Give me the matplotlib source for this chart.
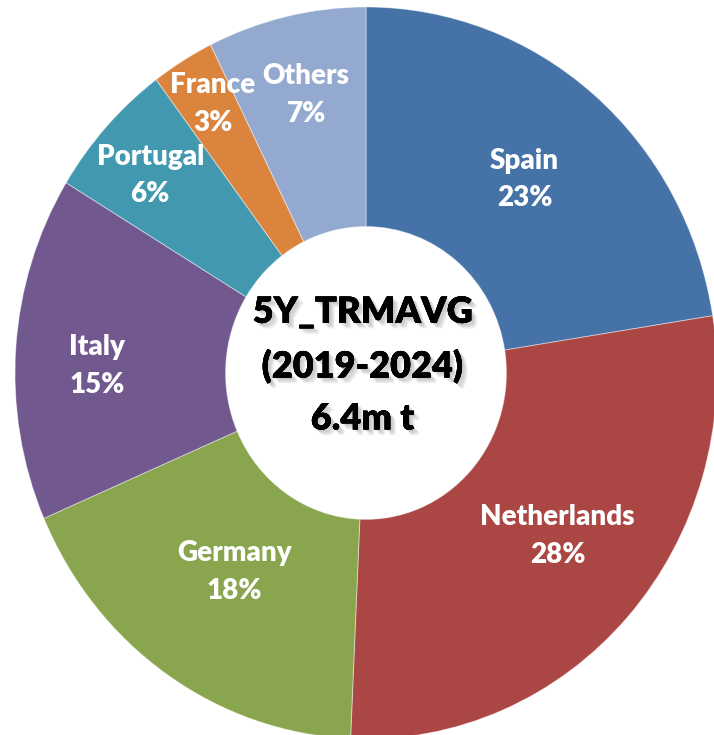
import numpy as np
import matplotlib
matplotlib.use("Agg")
import matplotlib.pyplot as plt
import matplotlib.patheffects as pe

# ---- data ----
countries = ["Spain", "Netherlands", "Germany", "Italy", "Portugal", "France", "Others"]
shares = [22.5, 28.2, 17.8, 15.2, 6.1, 2.9, 7.3]
pct_labels = ["23%", "28%", "18%", "15%", "6%", "3%", "7%"]
colors = ["#4572A7", "#AA4643", "#89A54E", "#71588F", "#4198AF", "#DB843D", "#93A9CF"]
center_lines = ["5Y_TRMAVG", "(2019-2024)", "6.4m t"]

# label layout (radius in ring units, small angular nudge in degrees)
label_r = [0.695, 0.705, 0.66, 0.766, 0.818, 0.854, 0.779]
label_nudge = [0.0, 2.5, 0.0, 2.5, 1.0, -0.8, -0.5]

fig = plt.figure(figsize=(7.14, 7.35), dpi=100)
fig.patch.set_facecolor("white")
ax = fig.add_axes([0.021, -0.0054, 0.9832, 0.9959])

wedges, _ = ax.pie(shares, colors=colors, startangle=90, counterclock=False,
                   radius=1.0,
                   wedgeprops=dict(width=0.6, edgecolor=(1, 1, 1, 0.45), linewidth=0.7))
ax.set_aspect("auto")
ax.set_xlim(-1, 1)
ax.set_ylim(-1, 1)
ax.axis("off")

font = "Lato"
total = sum(shares)
cum = 0.0
for i, (name, s) in enumerate(zip(countries, shares)):
    start = 90 - cum / total * 360
    end = 90 - (cum + s) / total * 360
    mid = np.deg2rad((start + end) / 2 + label_nudge[i])
    cum += s
    r = label_r[i]
    ax.text(r * np.cos(mid), r * np.sin(mid), f"{name}\n{pct_labels[i]}",
            ha="center", va="center", color="white", fontsize=20,
            fontweight="heavy", family=font, linespacing=1.55)

shadow = [pe.withSimplePatchShadow(offset=(o, -o), shadow_rgbFace="#777777", alpha=0.13)
          for o in (1.0, 2.0, 3.0, 4.0)] + [pe.Normal()]
ax.text(-0.01, 0.02, "\n".join(center_lines), ha="center", va="center",
        fontsize=26, fontweight="heavy", family=font, color="black",
        linespacing=1.7, path_effects=shadow)

fig.savefig("out.png", dpi=100, facecolor="white")
